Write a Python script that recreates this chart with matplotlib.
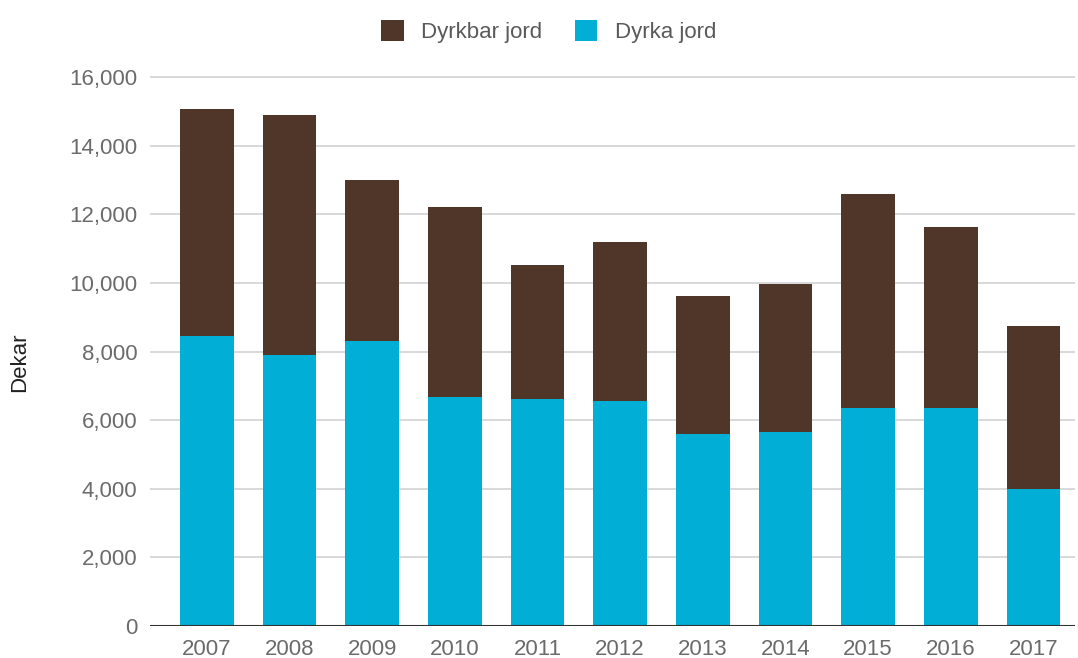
import matplotlib
matplotlib.use("Agg")
import matplotlib.pyplot as plt
from matplotlib.patches import Patch
from matplotlib.ticker import FuncFormatter

plt.rcParams['font.family'] = ['Liberation Sans', 'DejaVu Sans']

# data
years = ['2007', '2008', '2009', '2010', '2011', '2012', '2013', '2014', '2015', '2016', '2017']
dyrka = [8460, 7900, 8300, 6670, 6610, 6560, 5610, 5650, 6340, 6340, 4000]   # blue, bottom
totals = [15060, 14890, 12990, 12200, 10530, 11200, 9620, 9970, 12600, 11640, 8740]
dyrkbar = [t - d for t, d in zip(totals, dyrka)]                              # brown, top

blue = '#00aed6'
brown = '#4f3629'

fig = plt.figure(figsize=(10.78, 6.58), dpi=100)
ax = fig.add_axes([0.139, 0.0486, 0.858, 0.8552])

x = range(len(years))
ax.bar(x, dyrka, width=0.65, color=blue, zorder=3)
ax.bar(x, dyrkbar, width=0.65, bottom=dyrka, color=brown, zorder=3)

ax.set_ylim(0, 16400)
ax.set_xlim(-0.69, 10.5)
ax.set_yticks(range(0, 16001, 2000))
ax.yaxis.set_major_formatter(FuncFormatter(lambda v, p: f'{int(v):,}'))
ax.set_xticks(list(x))
ax.set_xticklabels(years)

ax.grid(axis='y', color='#d6d6d6', linewidth=1.3, zorder=0)
ax.axhline(0, color='#333333', linewidth=1.5, zorder=4)
for s in ax.spines.values():
    s.set_visible(False)
ax.tick_params(axis='both', length=0, labelsize=16, colors='#6b6b6b')
ax.tick_params(axis='y', pad=9)
ax.tick_params(axis='x', pad=9)

ax.set_ylabel('Dekar', fontsize=16, color='#222222')
ax.yaxis.set_label_coords(-0.129, 0.469)

handles = [Patch(facecolor=brown, label='Dyrkbar jord'),
           Patch(facecolor=blue, label='Dyrka jord')]
leg = fig.legend(handles=handles, loc='center', bbox_to_anchor=(0.509, 0.952), ncol=2,
                 frameon=False, fontsize=16, handlelength=1.0, handleheight=1.05,
                 handletextpad=0.8, columnspacing=1.45)
for t in leg.get_texts():
    t.set_color('#5a5a5a')

fig.savefig('out.png', dpi=100)
